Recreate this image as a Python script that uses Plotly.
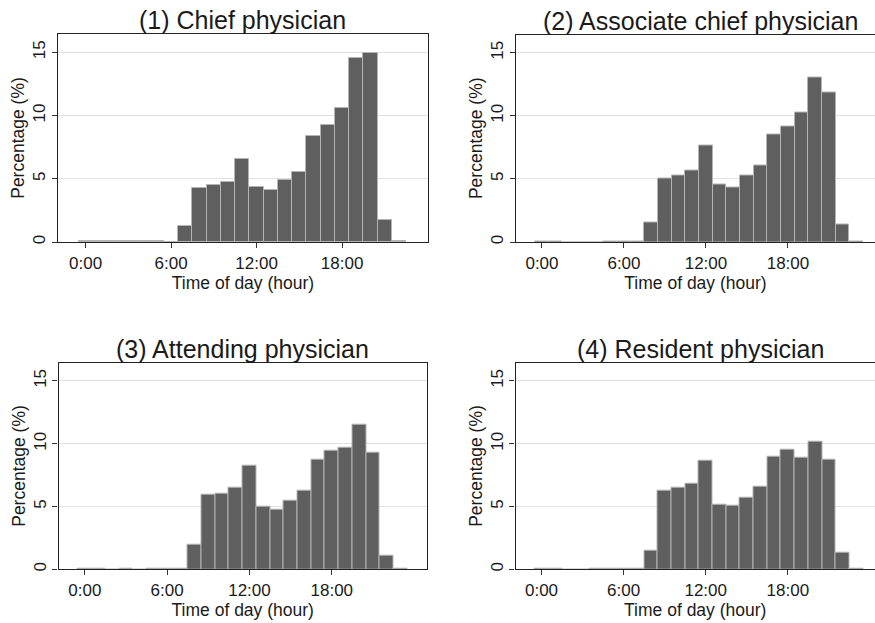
import plotly.graph_objects as go

hours = list(range(24))
tick_vals = [0, 6, 12, 18]
tick_text = ["0:00", "6:00", "12:00", "18:00"]
titles = ["(1) Chief physician", "(2) Associate chief physician",
          "(3) Attending physician", "(4) Resident physician"]

chief = [0.05, 0.05, 0.05, 0.05, 0.05, 0.05, 0.03, 1.24, 4.25, 4.49, 4.78, 6.58,
         4.36, 4.15, 4.94, 5.52, 8.37, 9.24, 10.59, 14.55, 14.95, 1.74, 0.04]
associate = [0.05, 0.05, 0.0, 0.0, 0.0, 0.05, 0.05, 0.03, 1.58, 5.02, 5.25, 5.65,
             7.63, 4.59, 4.36, 5.25, 6.05, 8.5, 9.16, 10.25, 13.07, 11.88, 1.4, 0.04]
attending = [0.05, 0.05, 0.0, 0.05, 0.0, 0.05, 0.05, 0.03, 1.96, 5.98, 6.03, 6.53,
             8.25, 4.95, 4.71, 5.48, 6.27, 8.73, 9.47, 9.66, 11.51, 9.26, 1.06, 0.04]
resident = [0.05, 0.05, 0.0, 0.0, 0.05, 0.05, 0.05, 0.03, 1.46, 6.22, 6.53, 6.83,
            8.68, 5.16, 5.05, 5.69, 6.61, 8.97, 9.5, 8.92, 10.19, 8.73, 1.3, 0.04]

series = [chief, associate, attending, resident]

W, H = 875, 623
# plot areas in pixels: (left, right, top, bottom)
areas = [(58, 428, 34, 242), (516, 885, 34.5, 242),
         (58.5, 427, 362.7, 569.3), (515.5, 885, 362.7, 569.3)]
xranges = [[-1.94, 24.03], [-1.9, 25.1], [-1.92, 24.94], [-1.9, 25.1]]

fig = go.Figure()
txt = "#1a1a1a"
font_family = "Liberation Sans, Arial, sans-serif"

for i, vals in enumerate(series):
    l, r, t, b = areas[i]
    r_clip = min(r, W)
    xd = [l / W, r_clip / W]
    yd = [1 - b / H, 1 - t / H]
    x0, x1 = xranges[i]
    if r > W:
        x1 = x0 + (x1 - x0) * (r_clip - l) / (r - l)
    idx = "" if i == 0 else str(i + 1)
    fig.add_trace(go.Bar(
        x=hours[:len(vals)], y=vals, width=1,
        marker=dict(color="#5f5f5f", line=dict(color="#b4b4b4", width=1)),
        xaxis="x" + idx, yaxis="y" + idx, showlegend=False))
    fig.update_layout(**{
        "xaxis" + idx: dict(
            domain=xd, range=[x0, x1], anchor="y" + idx, automargin=False,
            tickvals=tick_vals, ticktext=tick_text, ticks="outside",
            ticklen=5, tickcolor="#333", showgrid=False, zeroline=False,
            showline=True, linecolor="#222", linewidth=1.3, mirror=True,
            tickfont=dict(size=17, color=txt, family=font_family),
            title=dict(text="Time of day (hour)", standoff=2,
                       font=dict(size=17.5, color=txt, family=font_family))),
        "yaxis" + idx: dict(
            domain=yd, range=[0, 16.45], anchor="x" + idx, automargin=False,
            tickvals=[0, 5, 10, 15], ticks="outside", ticklen=5,
            tickcolor="#333", tickangle=-90,
            showgrid=True, gridcolor="#e2e2e2", gridwidth=1, zeroline=False,
            showline=True, linecolor="#222", linewidth=1.3,
            mirror=(r <= W),
            tickfont=dict(size=17, color=txt, family=font_family),
            title=dict(text="Percentage (%)", standoff=0,
                       font=dict(size=17.5, color=txt, family=font_family))),
    })
    fig.add_annotation(
        x=((l + r) / 2) / W, y=1 - (t - 14) / H, xref="paper", yref="paper",
        text=titles[i], showarrow=False, xanchor="center", yanchor="middle",
        font=dict(size=25, color=txt, family=font_family))

fig.update_layout(width=W, height=H, margin=dict(l=0, r=0, t=0, b=0),
                  paper_bgcolor="white", plot_bgcolor="white", bargap=0)

fig.write_html("out.html", config={"displayModeBar": False},
               post_script="document.body.style.margin='0';document.body.style.overflow='hidden';")
